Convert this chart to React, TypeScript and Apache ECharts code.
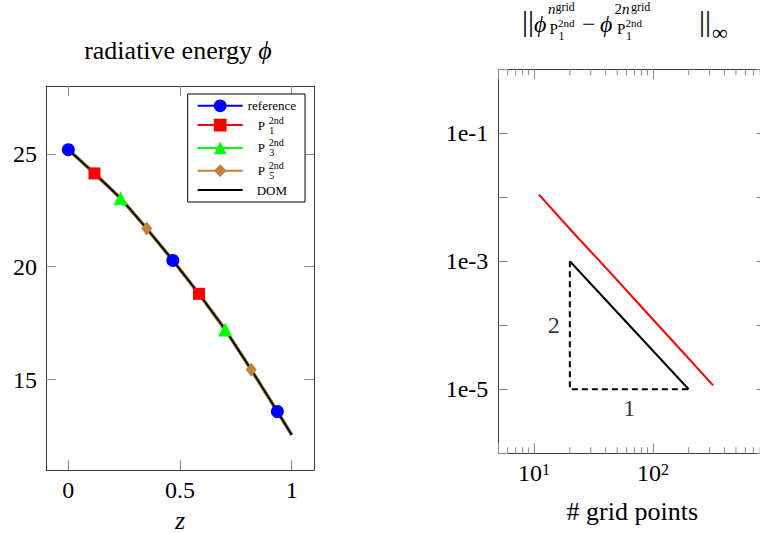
import React, { useEffect, useRef } from 'react';
import * as echarts from 'echarts';

const FONT = '"Liberation Serif", "DejaVu Serif", serif';
const SPINE = '#3a3a3a';
const TICK = '#8c8c8c';

// ---- radiative energy along z ----
const zDOM = [0, 0.117, 0.234, 0.351, 0.468, 0.585, 0.702, 0.819, 0.936, 1.0];
const phiDOM = [25.18, 24.13, 23.03, 21.69, 20.28, 18.8, 17.22, 15.44, 13.59, 12.56];

const zRef = [0, 0.468, 0.936];
const phiRef = [25.18, 20.28, 13.59];
const zP1 = [0.117, 0.585];
const phiP1 = [24.13, 18.8];
const zP3 = [0.234, 0.702];
const phiP3 = [23.03, 17.22];
const zP5 = [0.351, 0.819];
const phiP5 = [21.69, 15.44];

const zTicks = [0, 0.5, 1];
const phiTicks = [15, 20, 25];

// ---- grid convergence of P1 (2nd order) ----
const nGrid = [11, 21, 41, 81, 161, 321];
const errP1 = [1.1e-2, 2.9e-3, 7.6e-4, 1.9e-4, 4.7e-5, 1.15e-5];
const slopeN = [20, 200];
const slopeErr = [1e-3, 1e-5];
const decades = [1, 10, 100];
const minorMultipliers = [2, 3, 4, 5, 6, 7, 8, 9];

const pair = (xs: number[], ys: number[]) => xs.map((x, i) => [x, ys[i]]);

const solvers = [
  { name: 'reference', color: '#0000ff', symbol: 'circle', size: 13, z: zRef, phi: phiRef },
  { name: 'P1', color: '#ff0000', symbol: 'rect', size: 12, z: zP1, phi: phiP1 },
  { name: 'P3', color: '#00ff00', symbol: 'triangle', size: 14, z: zP3, phi: phiP3 },
  { name: 'P5', color: '#bf8040', symbol: 'diamond', size: [11, 14], z: zP5, phi: phiP5 },
];

// right-hand title: ||phi^{n^grid}_{P_1^2nd} - phi^{2n^grid}_{P_1^2nd}||_inf
const titlePieces = [
  { t: '||', x: 522, y: 20, s: 30 },
  { t: 'ϕ', x: 534, y: 24, s: 24, i: true },
  { t: 'n', x: 548, y: 8.5, s: 15, i: true },
  { t: 'grid', x: 555.5, y: 7, s: 12 },
  { t: 'P', x: 549.5, y: 28.5, s: 15 },
  { t: '2nd', x: 558, y: 23, s: 11 },
  { t: '1', x: 558.5, y: 36, s: 12 },
  { t: '−', x: 582, y: 24, s: 24 },
  { t: 'ϕ', x: 600, y: 24, s: 24, i: true },
  { t: '2', x: 614.5, y: 8.5, s: 15 },
  { t: 'n', x: 622, y: 8.5, s: 15, i: true },
  { t: 'grid', x: 631, y: 7, s: 12 },
  { t: 'P', x: 617, y: 28.5, s: 15 },
  { t: '2nd', x: 625.5, y: 23, s: 11 },
  { t: '1', x: 626, y: 36, s: 12 },
  { t: '||', x: 699, y: 20, s: 30 },
  { t: '∞', x: 712, y: 32, s: 22 },
];

const labelStyle = { fontFamily: FONT, fontSize: 24, color: '#000' };
const nameStyle = { fontFamily: FONT, fontSize: 26, color: '#000' };

function boxAxis(extra: any) {
  return {
    axisLine: { show: true, onZero: false, lineStyle: { color: SPINE, width: 1 } },
    splitLine: { show: false },
    ...extra,
  };
}

export default function App() {
  const ref = useRef<HTMLDivElement>(null);

  useEffect(() => {
    document.body.style.margin = '0';
    const chart = echarts.init(ref.current!, null, { renderer: 'svg' });

    const minorTicks: number[] = [];
    decades.forEach((d) =>
      minorMultipliers.forEach((m) => {
        const v = d * m;
        if (v > 5 && v < 900) minorTicks.push(v);
      })
    );

    const linTick = (vals: number[]) => ({
      show: true, inside: true, length: 10, customValues: vals, lineStyle: { color: TICK, width: 1 },
    });
    const logTick = { show: true, inside: true, length: 10, lineStyle: { color: TICK, width: 1 } };

    const isDecade = (v: number) => {
      const e = Math.log10(v);
      return Math.abs(e - Math.round(e)) < 1e-6;
    };

    const option: any = {
      animation: false,
      backgroundColor: '#fff',
      grid: [
        { left: 46, top: 86, width: 268, height: 384, containLabel: false, outerBoundsMode: 'none' },
        { left: 498.3, top: 69.3, width: 268, height: 384, containLabel: false, outerBoundsMode: 'none' },
      ],
      xAxis: [
        boxAxis({
          gridIndex: 0, type: 'value', position: 'bottom', min: -0.1, max: 1.1,
          axisTick: linTick(zTicks),
          axisLabel: { show: true, customValues: zTicks, margin: 8, ...labelStyle },
          name: 'z', nameLocation: 'middle', nameGap: 37,
          nameTextStyle: { ...nameStyle, fontStyle: 'italic' },
        }),
        boxAxis({
          gridIndex: 0, type: 'value', position: 'top', min: -0.1, max: 1.1,
          axisTick: linTick(zTicks), axisLabel: { show: false },
        }),
        boxAxis({
          gridIndex: 1, type: 'log', logBase: 10, position: 'bottom', min: 5, max: 900,
          axisTick: logTick,
          axisLabel: {
            show: true, margin: 8,
            formatter: (v: number) => (isDecade(v) ? `{b|10}{e|${Math.round(Math.log10(v))}}` : ''),
            rich: {
              b: { ...labelStyle, lineHeight: 24 },
              e: { fontFamily: FONT, fontSize: 16, color: '#000', lineHeight: 10, verticalAlign: 'top' },
            },
          },
          name: '# grid points', nameLocation: 'middle', nameGap: 45,
          nameTextStyle: nameStyle,
        }),
        boxAxis({
          gridIndex: 1, type: 'log', logBase: 10, position: 'top', min: 5, max: 900,
          axisTick: logTick, axisLabel: { show: false },
        }),
      ],
      yAxis: [
        boxAxis({
          gridIndex: 0, type: 'value', position: 'left', min: 11, max: 28,
          axisTick: linTick(phiTicks),
          axisLabel: { show: true, customValues: phiTicks, margin: 9, ...labelStyle },
        }),
        boxAxis({
          gridIndex: 0, type: 'value', position: 'right', min: 11, max: 28,
          axisTick: linTick(phiTicks), axisLabel: { show: false },
        }),
        boxAxis({
          gridIndex: 1, type: 'log', logBase: 10, position: 'left', min: 1e-6, max: 1, splitNumber: 6,
          axisTick: logTick,
          axisLabel: {
            show: true, margin: 10, ...labelStyle,
            formatter: (v: number) => {
              if (!isDecade(v)) return '';
              const e = Math.round(Math.log10(v));
              return e % 2 !== 0 ? `1e${e}` : '';
            },
          },
        }),
        boxAxis({
          gridIndex: 1, type: 'log', logBase: 10, position: 'right', min: 1e-6, max: 1, splitNumber: 6,
          axisTick: logTick, axisLabel: { show: false },
        }),
      ],
      legend: {
        data: ['reference', 'P1', 'P3', 'P5', 'DOM'],
        orient: 'vertical',
        left: 187.7,
        top: 94,
        itemWidth: 45,
        itemHeight: 16,
        itemGap: 2.8,
        padding: [5.3, 9, 5.5, 9],
        borderColor: '#000',
        borderWidth: 1,
        backgroundColor: '#fff',
        selectedMode: false,
        textStyle: {
          fontFamily: FONT, fontSize: 13, color: '#000',
          rich: {
            n: { fontFamily: FONT, fontSize: 13, lineHeight: 16, color: '#000' },
            d: { fontFamily: FONT, fontSize: 13, lineHeight: 16, color: '#000', padding: [0, 0, 0, 9] },
            sp: { fontFamily: FONT, fontSize: 10, lineHeight: 6, color: '#000', padding: [0, 0, 0, 21] },
            p: { fontFamily: FONT, fontSize: 13, lineHeight: 4, color: '#000', padding: [0, 0, 0, 10] },
            sb: { fontFamily: FONT, fontSize: 10, lineHeight: 6, color: '#000', padding: [0, 0, 0, 21.5] },
          },
        },
        formatter: (name: string) => {
          if (name === 'reference') return '{n|reference}';
          if (name === 'DOM') return '{d|DOM}';
          return `{sp|2nd}\n{p|P}\n{sb|${name.slice(1)}}`;
        },
      },
      graphic: [
        {
          type: 'text', x: 178, y: 50, silent: true,
          style: {
            text: '{a|radiative energy }{b|ϕ}',
            align: 'center', verticalAlign: 'middle',
            rich: {
              a: { fontFamily: FONT, fontSize: 26, fill: '#000' },
              b: { fontFamily: FONT, fontSize: 26, fontStyle: 'italic', fill: '#000' },
            },
          },
        },
        ...titlePieces.map((p) => ({
          type: 'text', x: p.x, y: p.y, silent: true,
          style: {
            text: p.t, fontFamily: FONT, fontSize: p.s, fontStyle: p.i ? 'italic' : 'normal',
            fill: '#000', align: 'left', verticalAlign: 'middle',
          },
        })),
      ],
      series: [
        // solver curves (they lie on top of each other along z)
        ...solvers.map((s) => ({
          type: 'line', name: s.name, xAxisIndex: 0, yAxisIndex: 0,
          data: pair(zDOM, phiDOM), showSymbol: false, symbol: s.symbol, symbolSize: s.size,
          lineStyle: { color: s.color, width: 3 }, itemStyle: { color: s.color }, z: 2, silent: true,
        })),
        {
          type: 'line', name: 'DOM', xAxisIndex: 0, yAxisIndex: 0,
          data: pair(zDOM, phiDOM), showSymbol: false, symbol: 'none',
          lineStyle: { color: '#000', width: 1.8 }, itemStyle: { color: 'rgba(0,0,0,0)' }, z: 3, silent: true,
        },
        ...solvers.map((s) => ({
          type: 'scatter', name: s.name + ' markers', xAxisIndex: 0, yAxisIndex: 0,
          data: pair(s.z, s.phi), symbol: s.symbol, symbolSize: s.size,
          itemStyle: { color: s.color, opacity: 1 }, z: 4, silent: true,
        })),
        // convergence
        {
          type: 'line', name: 'error', xAxisIndex: 2, yAxisIndex: 2,
          data: pair(nGrid, errP1), showSymbol: false, symbol: 'none',
          lineStyle: { color: '#ff0000', width: 2 }, z: 3, silent: true,
        },
        {
          type: 'line', name: 'slope', xAxisIndex: 2, yAxisIndex: 2,
          data: pair(slopeN, slopeErr), showSymbol: false, symbol: 'none',
          lineStyle: { color: '#000', width: 2 }, z: 3, silent: true,
        },
        {
          type: 'line', name: 'slope legs', xAxisIndex: 2, yAxisIndex: 2,
          data: [[slopeN[0], slopeErr[0]], [slopeN[0], slopeErr[1]], [slopeN[1], slopeErr[1]]],
          showSymbol: false, symbol: 'none',
          lineStyle: { color: '#000', width: 2, type: [6, 4] }, z: 3, silent: true,
        },
        {
          type: 'scatter', name: 'slope labels', xAxisIndex: 2, yAxisIndex: 2, symbolSize: 0,
          silent: true,
          data: [
            { value: [slopeN[0], Math.sqrt(slopeErr[0] * slopeErr[1])], label: { formatter: '2', position: 'left', distance: 10 } },
            { value: [Math.sqrt(slopeN[0] * slopeN[1]), slopeErr[1]], label: { formatter: '1', position: 'bottom', distance: 7 } },
          ],
          label: { show: true, ...labelStyle },
        },
        {
          type: 'custom', name: 'minor ticks', xAxisIndex: 2, yAxisIndex: 2, silent: true,
          data: minorTicks.map((v) => [v, 1e-3]),
          renderItem: (_params: any, api: any) => {
            const v = api.value(0);
            const b = api.coord([v, 1e-6]);
            const t = api.coord([v, 1]);
            const st = { stroke: TICK, lineWidth: 1 };
            return {
              type: 'group',
              children: [
                { type: 'line', shape: { x1: b[0], y1: b[1], x2: b[0], y2: b[1] - 6 }, style: st },
                { type: 'line', shape: { x1: t[0], y1: t[1], x2: t[0], y2: t[1] + 6 }, style: st },
              ],
            };
          },
        },
      ],
    };

    chart.setOption(option);
    return () => chart.dispose();
  }, []);

  return <div ref={ref} style={{ position: 'absolute', left: 0, top: 0, width: 760, height: 533 }} />;
}
